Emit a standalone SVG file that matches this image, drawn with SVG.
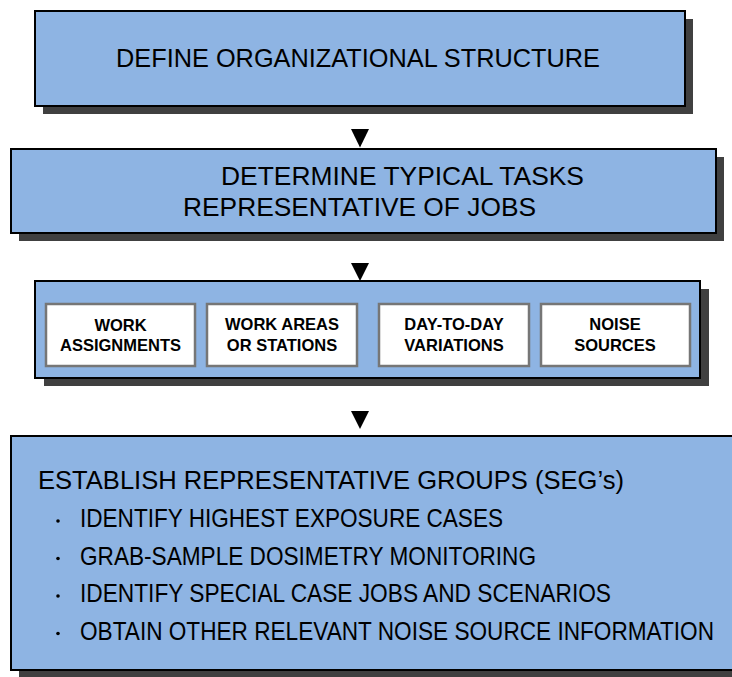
<svg xmlns="http://www.w3.org/2000/svg" width="732" height="677" viewBox="0 0 732 677">
  <defs>
    <style>
      .shadow { fill: #404040; }
      .step { fill: #8EB4E3; stroke: #000; stroke-width: 2; }
      .item { fill: #fff; stroke: #767676; stroke-width: 2.5; }
      .big { font-family: "Liberation Sans", Arial, sans-serif; font-size: 26px; fill: #000; }
      .small { font-family: "Liberation Sans", Arial, sans-serif; font-size: 16.5px; font-weight: bold; fill: #000; text-anchor: middle; }
      .arrow { fill: #000; }
      .dot { fill: #000; }
    </style>
  </defs>
  <rect width="732" height="677" fill="#fff"/>

  <g id="define-structure">
    <rect class="shadow" x="43" y="19" width="650" height="95"/>
    <rect class="step" x="35" y="11" width="650" height="95"/>
    <text class="big" x="116" y="67" textLength="484" lengthAdjust="spacingAndGlyphs">DEFINE ORGANIZATIONAL STRUCTURE</text>
  </g>

  <g id="determine-tasks">
    <rect class="shadow" x="19" y="157" width="705" height="84"/>
    <rect class="step" x="11" y="149" width="705" height="84"/>
    <text class="big" x="221" y="185" textLength="363" lengthAdjust="spacingAndGlyphs">DETERMINE TYPICAL TASKS</text>
    <text class="big" x="183" y="216" textLength="353" lengthAdjust="spacingAndGlyphs">REPRESENTATIVE OF JOBS</text>
  </g>

  <g id="factors">
    <rect class="shadow" x="44" y="289" width="665" height="97"/>
    <rect class="step" x="35" y="281" width="665" height="97"/>
    <g id="work-assignments">
      <rect class="item" x="46" y="304" width="149" height="62"/>
      <text class="small" x="120.5" y="331">WORK</text>
      <text class="small" x="120.5" y="351">ASSIGNMENTS</text>
    </g>
    <g id="work-areas">
      <rect class="item" x="207" y="304" width="150" height="62"/>
      <text class="small" x="282" y="329.5">WORK AREAS</text>
      <text class="small" x="282" y="351">OR STATIONS</text>
    </g>
    <g id="day-to-day">
      <rect class="item" x="379" y="304" width="150" height="62"/>
      <text class="small" x="454" y="330">DAY-TO-DAY</text>
      <text class="small" x="454" y="351">VARIATIONS</text>
    </g>
    <g id="noise-sources">
      <rect class="item" x="541" y="304" width="149" height="62"/>
      <text class="small" x="615" y="330">NOISE</text>
      <text class="small" x="615" y="351">SOURCES</text>
    </g>
  </g>

  <g id="establish-groups">
    <rect class="shadow" x="19" y="444" width="730" height="234"/>
    <rect class="step" x="11" y="436" width="730" height="234"/>
    <text class="big" x="38" y="489" textLength="586" lengthAdjust="spacingAndGlyphs">ESTABLISH REPRESENTATIVE GROUPS (SEG’s)</text>
    <circle class="dot" cx="58" cy="521" r="1.8"/>
    <text class="big" x="80" y="527" textLength="423" lengthAdjust="spacingAndGlyphs">IDENTIFY HIGHEST EXPOSURE CASES</text>
    <circle class="dot" cx="58" cy="558.5" r="1.8"/>
    <text class="big" x="80" y="564.5" textLength="456" lengthAdjust="spacingAndGlyphs">GRAB-SAMPLE DOSIMETRY MONITORING</text>
    <circle class="dot" cx="58" cy="596" r="1.8"/>
    <text class="big" x="80" y="602" textLength="531" lengthAdjust="spacingAndGlyphs">IDENTIFY SPECIAL CASE JOBS AND SCENARIOS</text>
    <circle class="dot" cx="58" cy="633.5" r="1.8"/>
    <text class="big" x="80" y="639.5" textLength="634" lengthAdjust="spacingAndGlyphs">OBTAIN OTHER RELEVANT NOISE SOURCE INFORMATION</text>
  </g>

  <g id="connectors">
    <polygon class="arrow" points="351,129 369,129 360,147.5"/>
    <polygon class="arrow" points="351,263 369,263 360,281"/>
    <polygon class="arrow" points="351,411 369,411 360,429"/>
  </g>
</svg>
